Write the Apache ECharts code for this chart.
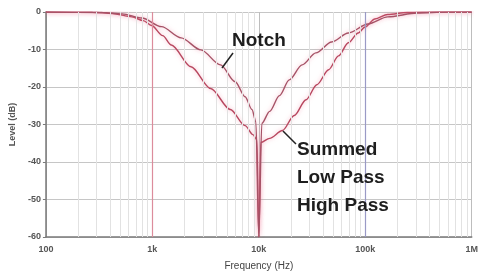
<!DOCTYPE html>
<html>
<head>
<meta charset="utf-8">
<script src="https://cdn.jsdelivr.net/npm/echarts@6/dist/echarts.min.js"></script>
<style>
	html, body { margin: 0; padding: 0; background: #ffffff; }
	#chart { width: 481px; height: 276px; }
</style>
</head>
<body>
<div id="chart"></div>
<script>
// frequency in Hz, level in dB
var notchFreq  = [100, 340, 520, 796, 1217, 1862, 2851, 4363, 6000, 7430, 8617, 9380, 10000, 10660, 12640, 15630, 19330, 25500, 34340, 48260, 69300, 106000, 162300, 307000, 581000, 1000000];
var notchLevel = [0, -0.13, -0.5, -1.6, -3.9, -6.9, -10.1, -14.1, -18.6, -22.6, -26.0, -29.2, -60, -29.7, -26.5, -22.3, -18.1, -14.1, -10.9, -8.0, -5.6, -3.2, -1.3, -0.27, -0.03, 0];

var summedFreq  = [100, 275, 421, 643, 820, 984, 1250, 1507, 2306, 3527, 5396, 7430, 8802, 9583, 10000, 10435, 12640, 16665, 21500, 27760, 35080, 45290, 56000, 69300, 85700, 99500, 123000, 162300, 248000, 470000, 1000000];
var summedLevel = [0, -0.08, -0.4, -1.3, -2.3, -3.6, -6.3, -8.8, -14.6, -20.4, -26.0, -30.3, -32.7, -34.0, -60, -34.8, -33.7, -31.6, -27.6, -23.4, -19.4, -15.4, -11.7, -8.2, -5.6, -4.0, -1.86, -0.66, -0.13, 0, 0];

var xTickValues = [100, 1000, 10000, 100000, 1000000];
var xTickLabels = ['100', '1k', '10k', '100k', '1M'];

var minorGridFreq = [];
[100, 1000, 10000, 100000].forEach(function (d) {
	for (var k = 2; k <= 9; k++) minorGridFreq.push(d * k);
});

function pairs(xs, ys) {
	var out = [];
	for (var i = 0; i < xs.length; i++) out.push([xs[i], ys[i]]);
	return out;
}

var chart = echarts.init(document.getElementById('chart'));

var lineGlow = {
	shadowColor: 'rgba(240, 120, 150, 0.55)',
	shadowBlur: 4
};

var labelFont = 'bold 19px "Liberation Sans", Arial';

chart.setOption({
	animation: false,
	backgroundColor: '#ffffff',
	grid: { left: 44, right: 4, top: 12, bottom: 38 },
	xAxis: {
		type: 'log',
		logBase: 10,
		min: 100,
		max: 1000000,
		splitNumber: 4,
		name: 'Frequency (Hz)',
		nameLocation: 'middle',
		nameGap: 24,
		nameTextStyle: { fontSize: 10, color: '#444', fontFamily: 'Liberation Sans' },
		axisLine: { show: true, onZero: false, lineStyle: { color: '#7a7a7a', width: 1.5 } },
		axisTick: { show: false },
		axisLabel: {
			fontSize: 9, fontWeight: 'bold', color: '#555', margin: 8, fontFamily: 'Liberation Sans',
			formatter: function (v) {
				var i = xTickValues.indexOf(Math.round(v));
				return i >= 0 ? xTickLabels[i] : '';
			}
		},
		splitLine: { show: true, lineStyle: { color: '#bdbdbd', width: 1 } }
	},
	yAxis: {
		type: 'value',
		min: -60,
		max: 0,
		interval: 10,
		name: 'Level (dB)',
		nameLocation: 'middle',
		nameGap: 28,
		nameTextStyle: { fontSize: 9, color: '#555', fontWeight: 'bold', fontFamily: 'Liberation Sans' },
		axisLine: { show: true, lineStyle: { color: '#7a7a7a', width: 1.5 } },
		axisTick: { show: true, length: 3, lineStyle: { color: '#7a7a7a' } },
		axisLabel: { fontSize: 9, fontWeight: 'bold', color: '#555', margin: 5, fontFamily: 'Liberation Sans' },
		splitLine: { show: true, lineStyle: { color: '#c6c6c6', width: 1 } }
	},
	series: [
		{
			type: 'line',
			data: [],
			z: 1,
			silent: true,
			markLine: {
				silent: true,
				symbol: 'none',
				label: { show: false },
				lineStyle: { color: '#e2e2e2', width: 1, type: 'solid' },
				data: minorGridFreq.map(function (f) { return { xAxis: f }; })
			}
		},
		{
			type: 'line',
			data: [],
			z: 1,
			silent: true,
			markLine: {
				silent: true,
				symbol: 'none',
				label: { show: false },
				data: [
					{ xAxis: xTickValues[1], lineStyle: { color: '#dc8c9c', width: 1.2, type: 'solid' } },
					{ xAxis: xTickValues[3], lineStyle: { color: '#9a9ac6', width: 1.2, type: 'solid' } }
				]
			}
		},
		{
			name: 'Summed',
			type: 'line',
			data: pairs(summedFreq, summedLevel),
			showSymbol: false,
			smooth: 0.3,
			smoothMonotone: 'x',
			z: 3,
			lineStyle: Object.assign({ color: '#b8475f', width: 1.4 }, lineGlow)
		},
		{
			name: 'Notch',
			type: 'line',
			data: pairs(notchFreq, notchLevel),
			showSymbol: false,
			smooth: 0.3,
			smoothMonotone: 'x',
			z: 4,
			lineStyle: Object.assign({ color: '#a65266', width: 1.4 }, lineGlow)
		}
	],
	graphic: [
		{ type: 'line', shape: { x1: 222, y1: 68, x2: 233, y2: 53 }, style: { stroke: '#222', lineWidth: 1.5 }, z: 10 },
		{ type: 'text', left: 232, top: 31, style: { text: 'Notch', font: labelFont, fill: '#1e1e1e' }, z: 10 },
		{ type: 'line', shape: { x1: 283, y1: 131, x2: 296, y2: 144 }, style: { stroke: '#222', lineWidth: 1.5 }, z: 10 },
		{ type: 'text', left: 297, top: 140, style: { text: 'Summed', font: labelFont, fill: '#1e1e1e' }, z: 10 },
		{ type: 'text', left: 297, top: 168, style: { text: 'Low Pass', font: labelFont, fill: '#1e1e1e' }, z: 10 },
		{ type: 'text', left: 297, top: 196, style: { text: 'High Pass', font: labelFont, fill: '#1e1e1e' }, z: 10 }
	]
});
</script>
</body>
</html>
